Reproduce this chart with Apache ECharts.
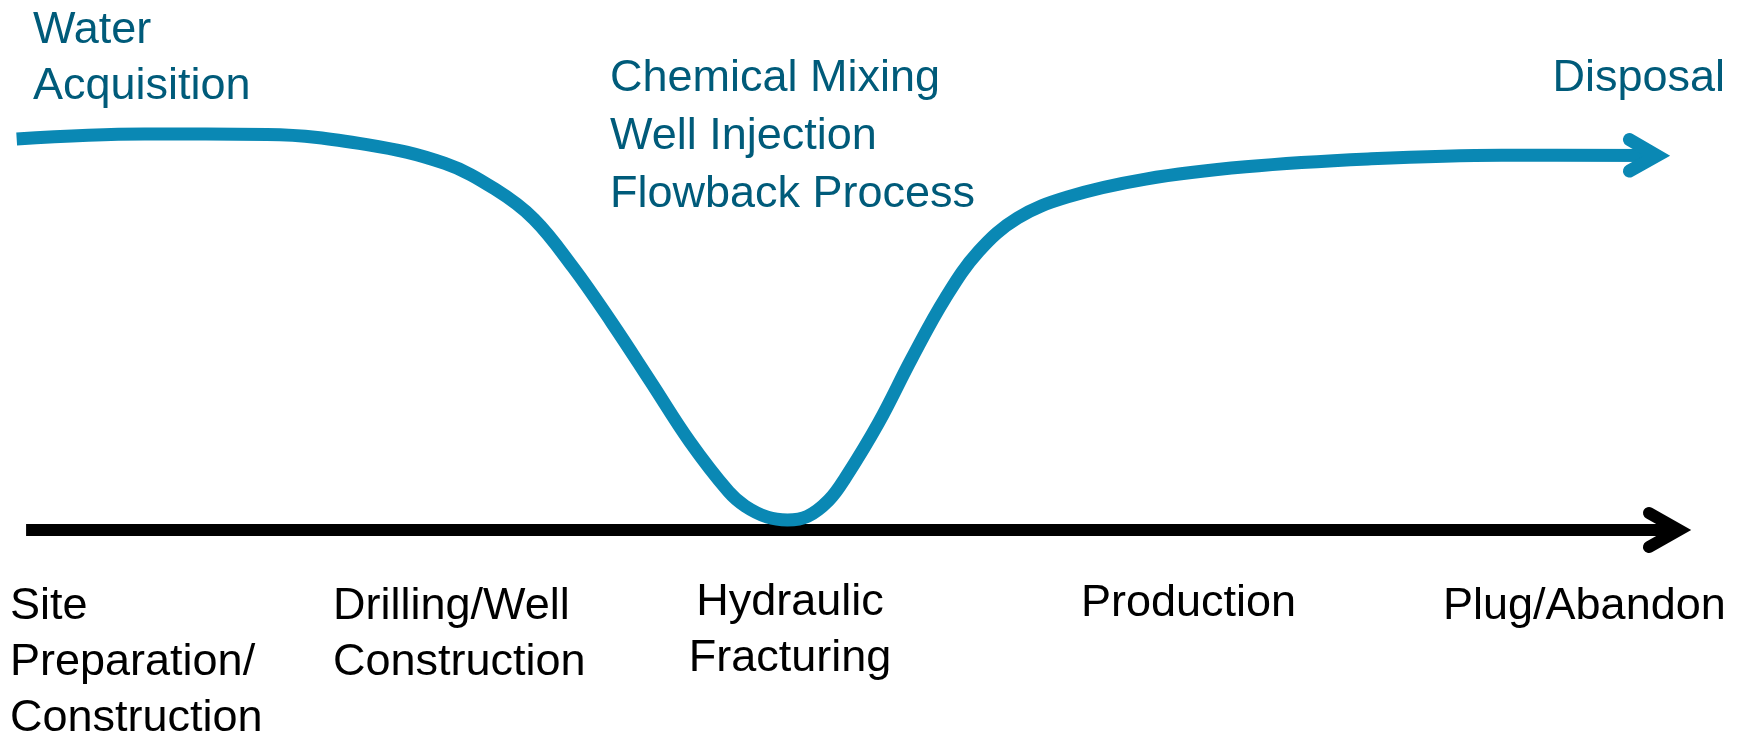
<!DOCTYPE html>
<html>
<head>
<meta charset="utf-8">
<title>Water use across the well life cycle</title>
<script src="https://cdn.jsdelivr.net/npm/echarts@6.0.0/dist/echarts.min.js"></script>
<style>
  html, body { margin: 0; padding: 0; background: #ffffff; }
  #chart { width: 1744px; height: 737px; }
</style>
</head>
<body>
<div id="chart"></div>
<script>
// stage labels along the time axis
var stageLabels = [
  "Site\nPreparation/\nConstruction",
  "Drilling/Well\nConstruction",
  "Hydraulic\nFracturing",
  "Production",
  "Plug/Abandon"
];
// water cycle labels above the curve
var waterLabels = [
  "Water\nAcquisition",
  "Chemical Mixing\nWell Injection\nFlowback Process",
  "Disposal"
];

// water curve (x = progress 0-100, y = level 0-100)
var curveX = [0.04, 7.65, 14.94, 20.89, 25.53, 28.51, 30.83, 33.14, 35.46, 37.77, 40.1, 42.41, 43.4, 44.73, 45.92, 47.11, 48.37, 49.36, 51.35, 53.33, 55.32, 57.3, 59.62, 62.6, 67.24, 73.2, 80.48, 88.42, 97.68];
var curveY = [97.75, 99.0, 98.86, 96.35, 91.63, 85.23, 77.73, 65.78, 51.88, 37.13, 22.13, 9.6, 5.98, 3.2, 2.5, 3.4, 7.4, 13.0, 26.85, 42.98, 57.98, 69.65, 78.0, 83.28, 87.73, 90.8, 92.75, 93.7, 93.6];
var curveHeadX = [96.04, 97.68, 96.04];
var curveHeadY = [97.6, 93.6, 89.75];

// time axis
var axisX = [0.6, 98.99];
var axisY = [0, 0];
var axisHeadX = [97.2, 98.99, 97.2];
var axisHeadY = [4.25, 0, -4.25];

function pairs(xs, ys) {
  return xs.map(function (x, i) { return [x, ys[i]]; });
}

var blue = "#0a88b4";
var teal = "#005b7a";
var font = '45px "Liberation Sans", Arial, sans-serif';

// label placement
var stagePos = [
  { x: 10, y: 579, align: "left", lh: 56 },
  { x: 333, y: 579, align: "left", lh: 56 },
  { x: 790, y: 575, align: "center", lh: 56 },
  { x: 1081, y: 575, align: "left", lh: 57 },
  { x: 1443, y: 578, align: "left", lh: 57 }
];
var waterPos = [
  { x: 33, y: 3, align: "left", lh: 56 },
  { x: 610, y: 50, align: "left", lh: 58 },
  { x: 1725, y: 50, align: "right", lh: 57 }
];

function textItems(labels, pos, color) {
  return labels.map(function (t, i) {
    var p = pos[i];
    return {
      type: "text",
      x: p.x,
      y: p.y,
      silent: true,
      style: {
        text: t,
        font: font,
        fill: color,
        align: p.align,
        textAlign: p.align,
        verticalAlign: "top",
        textVerticalAlign: "top",
        lineHeight: p.lh
      }
    };
  });
}

var myChart = echarts.init(document.getElementById("chart"));
myChart.setOption({
  animation: false,
  backgroundColor: "#ffffff",
  grid: {
    left: 16,
    right: 48,
    top: 30,
    bottom: 107
  },
  xAxis: { type: "value", min: 0, max: 100, show: false },
  yAxis: { type: "value", min: -25, max: 125, show: false },
  graphic: textItems(stageLabels, stagePos, "#000000").concat(textItems(waterLabels, waterPos, teal)),
  series: [
    {
      type: "line",
      data: pairs(axisX, axisY),
      showSymbol: false,
      clip: false,
      silent: true,
      lineStyle: { color: "#000000", width: 12, cap: "butt" }
    },
    {
      type: "line",
      data: pairs(axisHeadX, axisHeadY),
      showSymbol: false,
      clip: false,
      silent: true,
      lineStyle: { color: "#000000", width: 12, cap: "round", join: "miter" }
    },
    {
      // 平滑的用水曲线
      type: "line",
      data: pairs(curveX, curveY),
      smooth: 0.38,
      showSymbol: false,
      clip: false,
      silent: true,
      lineStyle: { color: blue, width: 13, cap: "butt", join: "round" }
    },
    {
      type: "line",
      data: pairs(curveHeadX, curveHeadY),
      showSymbol: false,
      clip: false,
      silent: true,
      lineStyle: { color: blue, width: 13, cap: "round", join: "miter" }
    }
  ]
});
</script>
</body>
</html>
